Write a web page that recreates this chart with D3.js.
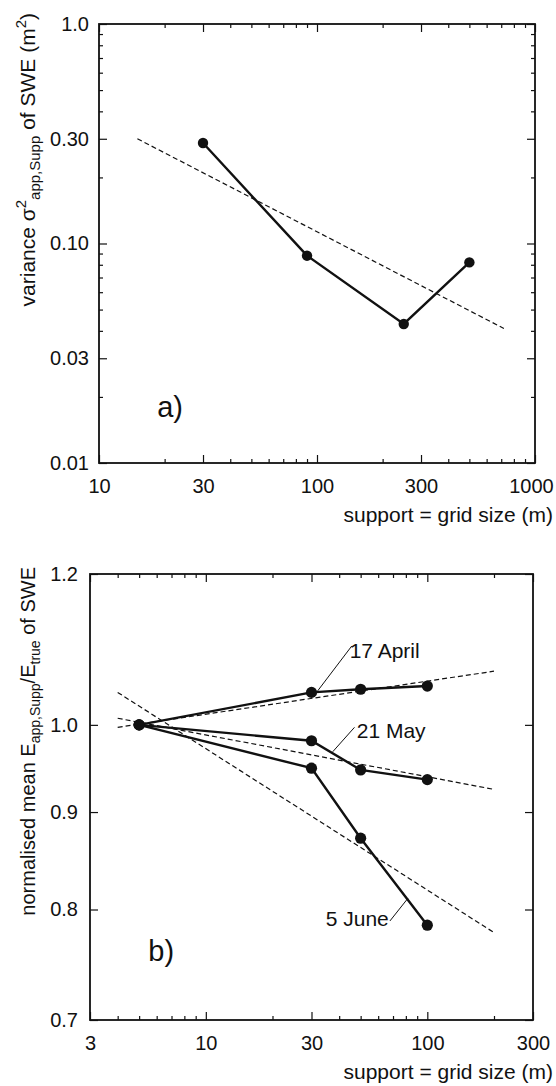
<!DOCTYPE html>
<html>
<head>
<meta charset="utf-8">
<script src="https://cdn.jsdelivr.net/npm/d3@7"></script>
<style>
  body { margin: 0; background: #fff; }
  svg { display: block; font-family: "Liberation Sans", Arial, sans-serif; }
  .tick text { font-size: 20px; fill: #111; }
  .domain { display: none; }
</style>
</head>
<body>
<div id="chart"></div>
<script>
// panel a) variance vs support
const aSizes = [30, 90, 250, 500];
const aVariance = [0.287, 0.088, 0.043, 0.082];
const aFitX = [15, 720];
const aFitY = [0.30, 0.041];
const aXLabels = [10, 30, 100, 300, 1000];
const aYLabels = [0.01, 0.03, 0.1, 0.3, 1.0];
const aYFormat = ["0.01", "0.03", "0.10", "0.30", "1.0"];

// panel b) normalised mean vs support
const bSizes = [5, 30, 50, 100];
const april = [1.0, 1.040, 1.044, 1.048];
const may = [1.0, 0.981, 0.947, 0.936];
const june = [1.0, 0.949, 0.872, 0.785];
const bFitX = [4, 200];
const aprilFit = [0.997, 1.067];
const mayFit = [1.008, 0.925];
const juneFit = [1.04, 0.778];
const bXLabels = [3, 10, 30, 100, 300];
const bYLabels = [0.7, 0.8, 0.9, 1.0, 1.2];
const bYFormat = ["0.7", "0.8", "0.9", "1.0", "1.2"];

// date labels with leader lines (data units)
const noteText = ["17 April", "21 May", "5 June"];
const noteX = [44.6, 48.0, 67.0];
const noteY = [1.084, 0.984, 0.784];
const noteAnchor = ["start", "start", "end"];
const leaderFrom = [[45.6, 1.100], [46.9, 0.997], [67.8, 0.789]];
const leaderTo = [[32.0, 1.042], [37.4, 0.968], [81.8, 0.811]];

const svg = d3.select("#chart").append("svg")
  .attr("width", 556)
  .attr("height", 1086);

function drawFrame(box, x, y, opt) {
  const g = svg.append("g");
  const w = box.right - box.left, h = box.bottom - box.top;
  const minorX = x.ticks().filter(v => !opt.xLabels.includes(v));
  const minorY = (opt.yMinor || []).filter(v => !opt.yLabels.includes(v));

  // bottom + top
  g.append("g").attr("transform", `translate(0,${box.bottom})`)
    .call(d3.axisBottom(x).tickValues(minorX).tickSize(-4).tickFormat(""));
  const xAxis = g.append("g").attr("transform", `translate(0,${box.bottom})`)
    .call(d3.axisBottom(x).tickValues(opt.xLabels).tickSize(-8).tickPadding(16).tickFormat(d3.format("d")));
  // keep the last label inside the page
  xAxis.selectAll(".tick:last-of-type text").attr("dx", opt.lastDx || 0);
  g.append("g").attr("transform", `translate(0,${box.top})`)
    .call(d3.axisTop(x).tickValues(minorX).tickSize(-4).tickFormat(""));
  g.append("g").attr("transform", `translate(0,${box.top})`)
    .call(d3.axisTop(x).tickValues(opt.xLabels).tickSize(-8).tickFormat(""));
  // left + right
  g.append("g").attr("transform", `translate(${box.left},0)`)
    .call(d3.axisLeft(y).tickValues(minorY).tickSize(-4).tickFormat(""));
  g.append("g").attr("transform", `translate(${box.left},0)`)
    .call(d3.axisLeft(y).tickValues(opt.yLabels).tickSize(-8).tickPadding(opt.yPad)
      .tickFormat((d, i) => opt.yFormat[i]));
  g.append("g").attr("transform", `translate(${box.right},0)`)
    .call(d3.axisRight(y).tickValues(minorY).tickSize(-4).tickFormat(""));
  g.append("g").attr("transform", `translate(${box.right},0)`)
    .call(d3.axisRight(y).tickValues(opt.yLabels).tickSize(-8).tickFormat(""));

  g.selectAll(".tick line").attr("stroke", "#111").attr("stroke-width", 1.2);

  g.append("rect")
    .attr("x", box.left).attr("y", box.top)
    .attr("width", w).attr("height", h)
    .attr("fill", "none").attr("stroke", "#111").attr("stroke-width", 1.8);

  svg.append("text")
    .attr("x", 553).attr("y", box.bottom + 59)
    .attr("text-anchor", "end")
    .attr("font-size", 21).attr("fill", "#111")
    .text("support = grid size (m)");
}

function drawSeries(x, y, xs, ys, r) {
  const line = d3.line().x(d => x(d[0])).y(d => y(d[1]));
  const pts = xs.map((v, i) => [v, ys[i]]);
  svg.append("path").datum(pts)
    .attr("d", line).attr("fill", "none")
    .attr("stroke", "#111").attr("stroke-width", 2.4);
  svg.selectAll(null).data(pts).enter().append("circle")
    .attr("cx", d => x(d[0])).attr("cy", d => y(d[1]))
    .attr("r", r).attr("fill", "#111");
}

function drawFit(x, y, xs, ys) {
  const line = d3.line().x(d => x(d[0])).y(d => y(d[1]));
  svg.append("path").datum(xs.map((v, i) => [v, ys[i]]))
    .attr("d", line).attr("fill", "none")
    .attr("stroke", "#111").attr("stroke-width", 1.2)
    .attr("stroke-dasharray", "5,3");
}

// ---- panel a ----
const boxA = { left: 99, right: 535, top: 24, bottom: 463 };
const xA = d3.scaleLog().domain([10, 1000]).range([boxA.left, boxA.right]);
const yA = d3.scaleLog().domain([0.01, 1]).range([boxA.bottom, boxA.top]);
drawFrame(boxA, xA, yA, {
  xLabels: aXLabels, yLabels: aYLabels, yFormat: aYFormat, yPad: 10,
  yMinor: yA.ticks(), lastDx: -4
});
drawFit(xA, yA, aFitX, aFitY);
drawSeries(xA, yA, aSizes, aVariance, 5.2);

svg.append("text")
  .attr("x", xA(18.5)).attr("y", yA(0.0162))
  .attr("font-size", 29).attr("fill", "#111").text("a)");

const titleA = svg.append("text")
  .attr("transform", "translate(35,13) rotate(-90)")
  .attr("text-anchor", "end")
  .attr("font-size", 21).attr("fill", "#111");
titleA.append("tspan").text("variance σ");
titleA.append("tspan").attr("font-size", 15).attr("dy", -9).text("2");
titleA.append("tspan").attr("font-size", 15).attr("dy", 14).text("app,Supp");
titleA.append("tspan").attr("dy", -5).text("  of SWE (m");
titleA.append("tspan").attr("font-size", 15).attr("dy", -9).text("2");
titleA.append("tspan").attr("dy", 9).text(")");

// ---- panel b ----
const boxB = { left: 90, right: 533, top: 574, bottom: 1020 };
const xB = d3.scaleLog().domain([3, 300]).range([boxB.left, boxB.right]);
const yB = d3.scaleLog().domain([0.7, 1.2]).range([boxB.bottom, boxB.top]);
drawFrame(boxB, xB, yB, {
  xLabels: bXLabels, yLabels: bYLabels, yFormat: bYFormat, yPad: 12,
  yMinor: [], lastDx: 0
});
drawFit(xB, yB, bFitX, aprilFit);
drawFit(xB, yB, bFitX, mayFit);
drawFit(xB, yB, bFitX, juneFit);
drawSeries(xB, yB, bSizes, april, 5.6);
drawSeries(xB, yB, bSizes, may, 5.6);
drawSeries(xB, yB, bSizes, june, 5.6);

noteText.forEach((t, i) => {
  svg.append("line")
    .attr("x1", xB(leaderFrom[i][0])).attr("y1", yB(leaderFrom[i][1]))
    .attr("x2", xB(leaderTo[i][0])).attr("y2", yB(leaderTo[i][1]))
    .attr("stroke", "#111").attr("stroke-width", 1);
  svg.append("text")
    .attr("x", xB(noteX[i])).attr("y", yB(noteY[i]))
    .attr("text-anchor", noteAnchor[i])
    .attr("font-size", 21).attr("fill", "#111").text(t);
});

svg.append("text")
  .attr("x", xB(5.5)).attr("y", yB(0.752))
  .attr("font-size", 29).attr("fill", "#111").text("b)");

const titleB = svg.append("text")
  .attr("transform", "translate(35,567) rotate(-90)")
  .attr("text-anchor", "end")
  .attr("font-size", 20).attr("fill", "#111");
titleB.append("tspan").text("normalised mean E");
titleB.append("tspan").attr("font-size", 14).attr("dy", 5).text("app,Supp");
titleB.append("tspan").attr("dy", -5).text("/E");
titleB.append("tspan").attr("font-size", 14).attr("dy", 5).text("true");
titleB.append("tspan").attr("dy", -5).text(" of SWE");
</script>
</body>
</html>
